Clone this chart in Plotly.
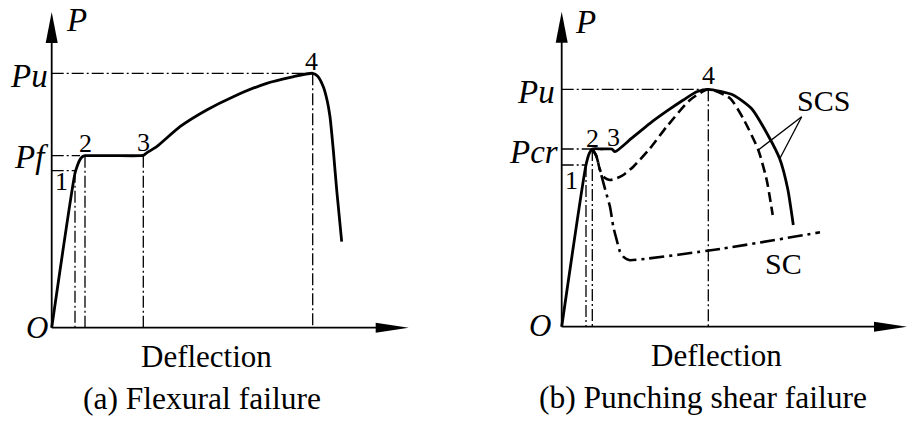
import plotly.graph_objects as go

# ---- (a) Flexural failure: load-deflection curve (schematic units) ----
flex_defl = [0, 23.3, 26.0, 28.6, 31.0, 33.3, 60.0, 88.5, 91.6, 95.0, 105.0, 128.3, 155.0, 181.6, 215.0, 240.0, 261.0,
             266.0, 271.6, 275.5, 278.3, 281.6, 285.0, 290.0]
flex_load = [0, 154.4, 163.0, 168.6, 171.2, 172.0, 172.0, 172.0, 172.3, 174.8, 181.0, 201.0, 217.7, 231.0, 244.4, 250.6, 254.4,
             251.5, 241.0, 227.0, 211.0, 177.7, 137.7, 86.0]
# characteristic points 1..4
flex_pts_x = [23.3, 33.3, 91.6, 261.0]
flex_pts_y = [157.0, 172.0, 172.0, 254.4]

# ---- (b) Punching shear failure ----
scs_solid_x = [0, 24.3, 27.6, 30.6, 40.0, 50.0, 53.3, 70.0, 88.3, 105.0, 121.6, 135.0, 146.6, 171.0, 190.0, 206.0,
               218.0, 226.0, 231.6]
scs_solid_y = [0, 161.7, 173.4, 177.7, 177.7, 177.7, 175.0, 188.5, 203.4, 215.5, 226.7, 235.0, 237.4, 232.0, 218.0,
               192.0, 168.0, 138.0, 101.7]
scs_dash_x = [30.6, 35.0, 38.3, 43.0, 48.3, 54.0, 61.6, 71.6, 88.0, 105.0, 128.3, 146.6, 168.3, 181.6, 196.6, 205.0,
              211.0]
scs_dash_y = [177.7, 170.0, 156.7, 149.0, 146.7, 148.0, 151.7, 160.0, 178.0, 200.0, 226.7, 237.4, 228.4, 208.0,
              176.7, 146.7, 111.7]
sc_x = [30.6, 34.5, 38.3, 43.5, 48.3, 51.6, 55.0, 58.3, 61.6, 65.0, 68.3, 160.0, 258.3]
sc_y = [177.7, 171.0, 156.7, 137.0, 120.0, 100.0, 86.7, 75.0, 70.0, 67.5, 66.5, 78.0, 94.4]
punch_pts_x = [24.3, 30.6, 146.6]
punch_pts_y = [161.7, 177.7, 237.4]

LEFT_DOMAIN = [0, 450 / 907]
RIGHT_DOMAIN = [450 / 907, 1]
LEFT_XR, LEFT_YR = [-51.7, 398.3], [-101.3, 327.7]
RIGHT_XR, RIGHT_YR = [-111.7, 345.3], [-102.3, 326.7]

FONT = "Liberation Serif"
LW = 2.8
REF_DASH = "12px,3px,2px,3px"
REF_W = 1.3

fig = go.Figure()


def curve(x, y, xa, ya, dash="solid", width=LW, smoothing=0.6):
    fig.add_trace(go.Scatter(x=x, y=y, xaxis=xa, yaxis=ya, mode="lines",
                             line=dict(color="black", width=width, dash=dash, shape="spline", smoothing=smoothing),
                             hoverinfo="skip", showlegend=False))


curve(flex_defl, flex_load, "x", "y")
curve(scs_solid_x, scs_solid_y, "x2", "y2")
curve(scs_dash_x, scs_dash_y, "x2", "y2", dash="10px,5px", width=2.6)
curve(sc_x, sc_y, "x2", "y2", dash="15px,5px,3px,5px", width=2.6)

shapes = []


def seg(xref, yref, x0, y0, x1, y1, dash=REF_DASH, width=REF_W):
    shapes.append(dict(type="line", xref=xref, yref=yref, x0=x0, y0=y0, x1=x1, y1=y1,
                       line=dict(color="black", width=width, dash=dash), layer="below"))


def axes(xref, yref, x_tip, y_tip):
    # axis lines with filled arrowheads
    seg(xref, yref, 0, 0, x_tip - 30, 0, dash="solid", width=1.8)
    seg(xref, yref, 0, 0, 0, y_tip - 28, dash="solid", width=1.8)
    shapes.append(dict(type="path", xref=xref, yref=yref, fillcolor="black", line=dict(width=0),
                       path=f"M {x_tip - 33} -5 L {x_tip} 0 L {x_tip - 33} 5 Z"))
    shapes.append(dict(type="path", xref=xref, yref=yref, fillcolor="black", line=dict(width=0),
                       path=f"M -6 {y_tip - 31} L 0 {y_tip} L 6 {y_tip - 31} Z"))


axes("x", "y", 357, 315.7)
axes("x2", "y2", 345.3, 315)

# guide lines, panel (a)
seg("x", "y", 0, flex_pts_y[3], flex_pts_x[3], flex_pts_y[3])
seg("x", "y", 0, flex_pts_y[1], flex_pts_x[1] - 5, flex_pts_y[1])
seg("x", "y", 0, flex_pts_y[0], flex_pts_x[0], flex_pts_y[0])
for px, py in zip(flex_pts_x, flex_pts_y):
    seg("x", "y", px, py, px, 0)

# guide lines, panel (b)
seg("x2", "y2", 0, punch_pts_y[2], punch_pts_x[2], punch_pts_y[2])
seg("x2", "y2", 0, punch_pts_y[1], punch_pts_x[1], punch_pts_y[1])
seg("x2", "y2", 0, punch_pts_y[0], punch_pts_x[0], punch_pts_y[0])
for px, py in zip(punch_pts_x, punch_pts_y):
    seg("x2", "y2", px, py, px, 0)

# leader lines for the SCS label
seg("x2", "y2", 240, 210, 196.6, 176.7, dash="solid", width=1.3)
seg("x2", "y2", 240, 210, 218.3, 168.4, dash="solid", width=1.3)

annotations = []


def label(xref, yref, x, y, text, size, xanchor="center", italic=False):
    if italic:
        text = f"<i>{text}</i>"
    annotations.append(dict(xref=xref, yref=yref, x=x, y=y, text=text, showarrow=False,
                            xanchor=xanchor, yanchor="middle",
                            font=dict(family=FONT, size=size, color="black")))


# panel (a) labels
label("x", "y", 25, 307.7, "P", 33, italic=True)
label("x", "y", -1.7, 252.0, "Pu", 33, xanchor="right", italic=True)
label("x", "y", -1.7, 171.0, "Pf", 33, xanchor="right", italic=True)
label("x", "y", -14.7, 0.7, "O", 31, italic=True)
for t, x, y in [("1", 10, 146), ("2", 33.3, 184.7), ("3", 91.3, 185.7), ("4", 260, 266.7)]:
    label("x", "y", x, y, t, 26)
label("x", "y", 155, -28.3, "Deflection", 31)
label("x", "y", 150, -70.3, "(a) Flexural failure", 31.5)

# panel (b) labels
label("x2", "y2", 23.3, 304.7, "P", 33, italic=True)
label("x2", "y2", -4.7, 235.0, "Pu", 33, xanchor="right", italic=True)
label("x2", "y2", -1.7, 175.0, "Pcr", 33, xanchor="right", italic=True)
label("x2", "y2", -21.7, 1.7, "O", 31, italic=True)
for t, x, y in [("1", 10, 146.7), ("2", 30.6, 188.7), ("3", 51.6, 189.7), ("4", 146.6, 251.7)]:
    label("x2", "y2", x, y, t, 26)
label("x2", "y2", 261.6, 226.7, "SCS", 30)
label("x2", "y2", 221.6, 63.7, "SC", 30)
label("x2", "y2", 155, -28.3, "Deflection", 31)
label("x2", "y2", 141.3, -70.3, "(b) Punching shear failure", 31.5)

hidden = dict(visible=False, fixedrange=True)
fig.update_layout(
    width=907, height=429,
    margin=dict(l=0, r=0, t=0, b=0),
    paper_bgcolor="white", plot_bgcolor="white",
    font=dict(family=FONT),
    xaxis=dict(domain=LEFT_DOMAIN, range=LEFT_XR, **hidden),
    yaxis=dict(domain=[0, 1], range=LEFT_YR, **hidden),
    xaxis2=dict(domain=RIGHT_DOMAIN, range=RIGHT_XR, anchor="y2", **hidden),
    yaxis2=dict(domain=[0, 1], range=RIGHT_YR, anchor="x2", **hidden),
    shapes=shapes,
    annotations=annotations,
    showlegend=False,
)

fig.write_html("out.html")
